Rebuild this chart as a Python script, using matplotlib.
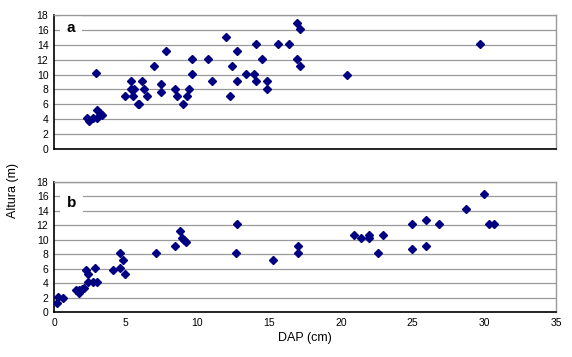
import matplotlib
matplotlib.use('Agg')
import matplotlib.pyplot as plt

# panel a: DAP (cm) vs Altura (m)
dap_a = [2.3, 2.45, 2.7, 3.0, 3.03, 3.2, 3.33, 2.9,
         4.97, 5.5, 5.36, 5.36, 5.55, 5.83, 5.94, 6.17, 6.3, 6.48, 6.95,
         7.48, 7.48, 7.8, 8.46, 8.58, 8.97, 9.28, 9.39, 9.63, 9.63,
         10.72, 11.05, 11.96, 12.3, 12.38, 12.73, 12.73,
         13.4, 13.94, 14.08, 14.08, 14.5, 14.87, 14.87, 15.6, 16.4,
         16.97, 17.15, 16.97, 17.15, 20.4, 29.7]
alt_a = [4.1, 3.7, 4.2, 4.2, 5.2, 4.9, 4.6, 10.2,
         7.1, 7.1, 9.2, 8.1, 8.1, 6.1, 6.1, 9.2, 8.1, 7.1, 11.1,
         8.7, 7.7, 13.1, 8.1, 7.1, 6.1, 7.1, 8.1, 10.1, 12.1,
         12.1, 9.2, 15.0, 7.1, 11.1, 13.1, 9.2,
         10.1, 10.1, 14.1, 9.2, 12.1, 9.2, 8.1, 14.1, 14.1,
         16.9, 16.1, 12.1, 11.1, 10.0, 14.1]

# panel b
dap_b = [0.2, 0.3, 0.6, 1.53, 1.77, 1.77, 1.93, 2.1, 2.2, 2.4, 2.4, 2.7, 2.86, 3.0,
         4.1, 4.6, 4.6, 4.84, 4.95, 7.12, 8.42, 8.75, 8.9, 9.05, 9.2,
         12.74, 12.7, 15.26, 16.98, 16.98,
         20.93, 21.4, 21.98, 21.98, 22.93, 22.56,
         24.96, 24.96, 25.96, 25.96, 26.87, 28.75, 29.96, 30.3, 30.66]
alt_b = [1.3, 2.1, 2.0, 3.0, 3.1, 2.7, 3.2, 3.3, 5.75, 5.2, 4.2, 4.2, 6.15, 4.2,
         5.75, 8.2, 6.15, 7.2, 5.2, 8.2, 9.2, 11.2, 10.2, 10.0, 9.75,
         12.2, 8.2, 7.15, 9.2, 8.2,
         10.7, 10.2, 10.7, 10.2, 10.7, 8.2,
         12.2, 8.7, 12.7, 9.2, 12.2, 14.2, 16.3, 12.2, 12.2]

y_ticks = list(range(0, 20, 2))
x_ticks = list(range(0, 40, 5))

plt.rcParams['font.family'] = ['Liberation Sans', 'DejaVu Sans']

fig = plt.figure(figsize=(5.72, 3.57), dpi=100)
ax_a = fig.add_axes([54 / 572, 1 - 149 / 357, 502 / 572, 134 / 357])
ax_b = fig.add_axes([54 / 572, 1 - 312 / 357, 502 / 572, 130 / 357])


def _style(ax, label, label_y, show_x):
    ax.set_xlim(0, 35)
    ax.set_ylim(0, 18)
    ax.set_yticks(y_ticks)
    ax.set_xticks(x_ticks)
    ax.grid(axis='y', color='#999999', lw=0.9)
    ax.set_axisbelow(True)
    for side in ['top', 'right']:
        ax.spines[side].set_color('#999999')
        ax.spines[side].set_linewidth(1.0)
    for side in ['left', 'bottom']:
        ax.spines[side].set_color('black')
        ax.spines[side].set_linewidth(1.2)
    ax.tick_params(length=0, labelsize=7.5, pad=4)
    if not show_x:
        ax.tick_params(labelbottom=False)
    ax.text(1.2, label_y, label, fontsize=11, fontweight='bold', ha='center',
            va='center', zorder=1,
            bbox=dict(facecolor='white', edgecolor='none', pad=5))


ax_a.plot(dap_a, alt_a, 'D', color='#000080', ms=4.1, mec='#000080', zorder=3)
ax_b.plot(dap_b, alt_b, 'D', color='#000080', ms=4.1, mec='#000080', zorder=3)
_style(ax_a, 'a', 16.3, False)
_style(ax_b, 'b', 15.1, True)
ax_b.set_xlabel('DAP (cm)', fontsize=9, labelpad=3)
fig.text(13 / 572, 1 - 190 / 357, 'Altura (m)', rotation=90, fontsize=9,
         ha='center', va='center')

fig.savefig('out.png', dpi=100)
